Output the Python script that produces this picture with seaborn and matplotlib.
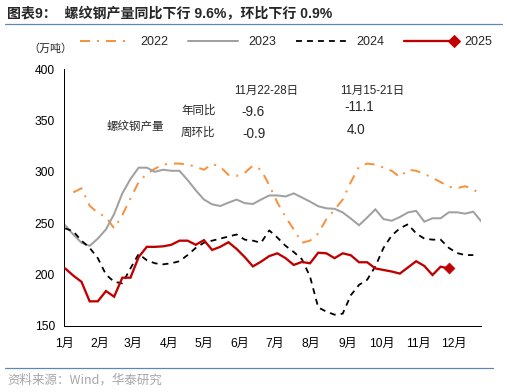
import numpy as np
import pandas as pd
import seaborn as sns
import matplotlib
matplotlib.use("Agg")
import matplotlib.pyplot as plt
from matplotlib.lines import Line2D
from matplotlib.legend_handler import HandlerBase

# ---------------- data (weekly, 万吨) ----------------
y2022 = [280, 284, 267, 260, 256, 245, 258, 274, 290, 298, 303, 307, 308, 308, 307,
         305, 302, 307.6, 305, 297, 296, 299, 306, 302, 287, 270, 256, 244, 231, 233,
         240, 254, 263, 273, 290, 305, 308, 307, 304, 301, 295, 302, 301, 298, 294,
         290, 285.5, 284, 286, 283, 277]
y2023 = [248, 239, 231, 228, 235, 244, 259, 279, 293, 304, 304, 300, 302, 301, 301,
         292, 282, 273, 268.4, 266.7, 270, 273, 269.5, 268.7, 273, 277, 277, 276, 279,
         275, 271, 266.5, 264.5, 264, 260.5, 254.5, 248, 255.5, 263.5, 254, 252.4, 256,
         260.5, 262, 251.5, 254.8, 254.8, 260.6, 260.6, 259.3, 261.2, 251.5]
y2024 = [245, 242, 233, 226, 216, 200, 193, 191.5, 206, 220, 214, 211, 210, 211, 213,
         219, 226, 231, 233, 235, 237, 239, 234, 233, 231, 243, 236, 228, 222, 215, 198,
         168, 164, 161, 162, 180, 190, 195, 208, 226, 238, 245, 249, 240, 235, 234, 234,
         226, 221, 219, 219]
y2025 = [206, 199, 193, 174, 174, 184, 178.5, 197, 197, 217, 227, 227, 227.5, 229, 233,
         233, 229, 233.5, 224, 227, 231.5, 225, 217, 208, 212.6, 218, 220.7, 216, 209.4,
         212.3, 211, 221.3, 220.7, 216, 220.7, 218.8, 212, 212, 206, 204.5, 203, 201, 207,
         213, 208.4, 199.6, 207.7, 206]
start_week = {"2022": 1, "2023": 0, "2024": 0, "2025": 0}
month_labels = ["1月", "2月", "3月", "4月", "5月", "6月", "7月", "8月", "9月", "10月", "11月", "12月"]
month_days = [0, 31, 59, 90, 120, 151, 181, 212, 243, 273, 304, 334]
years = ["2022", "2023", "2024", "2025"]
values = {"2022": y2022, "2023": y2023, "2024": y2024, "2025": y2025}

colors = {"2022": "#F7923F", "2023": "#A0A0A0", "2024": "#000000", "2025": "#C00000"}

rows = []
for yr in years:
    for i, v in enumerate(values[yr]):
        rows.append({"year": yr, "day": 1 + 7 * (i + start_week[yr]), "value": v})
df = pd.DataFrame(rows)

# ---------------- figure ----------------
W, H, DPI = 507, 392, 72
sns.set_theme(style="white")
plt.rcParams["font.family"] = ["Liberation Sans", "Noto Sans CJK SC"]
plt.rcParams["axes.unicode_minus"] = False
CJK = ["Noto Sans CJK SC", "Liberation Sans"]

fig = plt.figure(figsize=(W / DPI, H / DPI), dpi=DPI)
fig.patch.set_facecolor("white")
ax = fig.add_axes([64 / W, 1 - 326 / H, (481 - 64) / W, (326 - 69) / H])

styles = {
    "2022": dict(lw=2.0, dashes=(5, 3.5, 1, 3.5)),
    "2023": dict(lw=2.0, dashes=None),
    "2024": dict(lw=1.8, dashes=(3.3, 2.8)),
    "2025": dict(lw=2.3, dashes=None),
}
for yr in years:
    sub = df[df.year == yr]
    sns.lineplot(data=sub, x="day", y="value", ax=ax, color=colors[yr],
                 lw=styles[yr]["lw"], legend=False, zorder=3 if yr == "2025" else 2)
    ln = ax.lines[-1]
    if styles[yr]["dashes"] is not None:
        ln.set_dashes(styles[yr]["dashes"])
        ln.set_dash_capstyle("butt")
    ln.set_solid_joinstyle("miter")

last = df[df.year == "2025"].iloc[-1]
sns.scatterplot(x=[last.day], y=[last.value], ax=ax, marker="D", s=60,
                color=colors["2025"], edgecolor=colors["2025"], zorder=4, legend=False)

ax.set_xlim(0, 357.6)
ax.set_ylim(150, 400)
ax.set_yticks([150, 200, 250, 300, 350, 400])
ax.set_xticks(month_days)
ax.set_xticklabels(month_labels)
ax.set_xlabel("")
ax.set_ylabel("")
for s in ["top", "right"]:
    ax.spines[s].set_visible(False)
for s in ["left", "bottom"]:
    ax.spines[s].set_color("black")
    ax.spines[s].set_linewidth(1.0)
ax.tick_params(axis="both", direction="out", length=4, width=1, colors="black",
               labelsize=12)
ax.tick_params(axis="y", pad=5)
ax.tick_params(axis="x", pad=8)
ax.grid(False)


# ---------------- legend ----------------
class EndDiamond(HandlerBase):
    def create_artists(self, legend, orig, xdescent, ydescent, width, height,
                       fontsize, trans):
        y = height / 2 - ydescent
        l = Line2D([-xdescent, width - xdescent], [y, y], color=colors["2025"], lw=2.3)
        m = Line2D([width - xdescent], [y], marker="D", ms=8, color=colors["2025"], lw=0)
        l.set_transform(trans)
        m.set_transform(trans)
        return [l, m]


h22 = Line2D([], [], color=colors["2022"], lw=2.0, dashes=(5, 3.5, 1, 3.5))
h23 = Line2D([], [], color=colors["2023"], lw=2.0)
h24 = Line2D([], [], color=colors["2024"], lw=1.8, dashes=(3.3, 2.8))
h25 = Line2D([], [], color=colors["2025"], lw=2.3)
fig.legend([h22, h23, h24, h25], years, handler_map={h25: EndDiamond()},
           loc="center", bbox_to_anchor=(286 / W, 1 - 42 / H), ncol=4, frameon=False,
           fontsize=12.5, handlelength=4.0, handletextpad=0.8, columnspacing=1.6)


# ---------------- texts ----------------
def ft(x, y, s, ha="left", size=11, **kw):
    fig.text(x / W, 1 - y / H, s, ha=ha, va="center", fontsize=size, **kw)


ft(7, 14.5, "图表9：  螺纹钢产量同比下行 9.6%，环比下行 0.9%", size=14, weight="bold")
ft(28, 49, "（万吨）", size=11, family=CJK)
ft(266, 90.5, "11月22-28日", ha="center", size=11.5)
ft(372, 91, "11月15-21日", ha="center", size=11.5)
ft(181, 111, "年同比", size=11.5)
ft(181, 132.5, "周环比", size=11.5)
ft(107, 127, "螺纹钢产量", size=11.5)
ft(253, 112, "-9.6", ha="center", size=13.5)
ft(254, 133.5, "-0.9", ha="center", size=13.5)
ft(359, 107, "-11.1", ha="center", size=13.5)
ft(356, 130.5, "4.0", ha="center", size=13.5)
ft(7, 380, "资料来源：Wind，华泰研究", size=12.5, color="#A6A6A6", family=CJK)

blue = "#5B86B8"
fig.add_artist(Line2D([5 / W, 502 / W], [1 - 24 / H, 1 - 24 / H], color=blue, lw=1.2))
fig.add_artist(Line2D([5 / W, 493 / W], [1 - 367.5 / H, 1 - 367.5 / H], color=blue, lw=1.2))

fig.savefig("out.png", dpi=DPI)
